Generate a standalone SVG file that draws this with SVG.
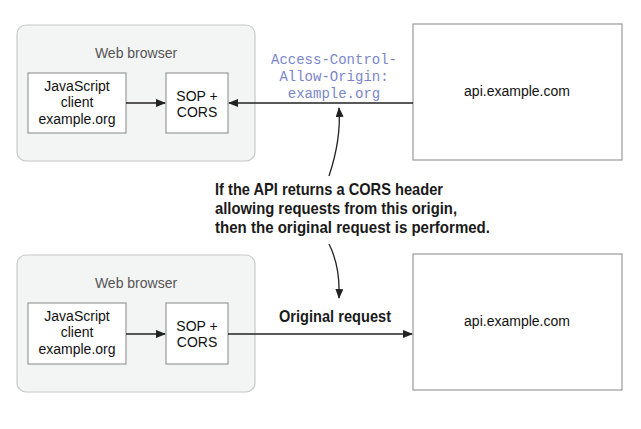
<svg xmlns="http://www.w3.org/2000/svg" width="641" height="429" viewBox="0 0 641 429">
<style>
.browser{fill:#f3f4f4;stroke:#c8c8c8;stroke-width:1.2}
.box{fill:#fff;stroke:#999;stroke-width:1.2}
.t{font-family:"Liberation Sans",Arial,sans-serif;font-size:14px;fill:#111;text-anchor:middle}
.g{font-family:"Liberation Sans",Arial,sans-serif;font-size:14px;fill:#555;text-anchor:middle}
.mono{font-family:"Liberation Mono","Courier New",monospace;font-size:14px;fill:#7b86c9;text-anchor:middle}
.b{font-family:"Liberation Sans Narrow","Liberation Sans",Arial,sans-serif;font-weight:bold;font-size:16.5px;fill:#1a1a1a}
.c{fill:none;stroke:#222;stroke-width:1.3}
</style>
<defs>
<marker id="ah" markerWidth="10" markerHeight="8" refX="9" refY="4" orient="auto" markerUnits="userSpaceOnUse">
<path d="M0,0 L10,4 L0,8 Z" fill="#222"/>
</marker>
</defs>
<g id="browser1">
<rect class="browser" x="17" y="25" width="238" height="136" rx="9"/>
<text class="g" x="136" y="58">Web browser</text>
</g>
<g id="js1">
<rect class="box" x="28" y="73" width="98" height="60"/>
<text class="t" x="77" y="91">JavaScript</text>
<text class="t" x="77" y="107">client</text>
<text class="t" x="77" y="124">example.org</text>
</g>
<g id="sop1">
<rect class="box" x="166" y="73" width="62" height="60"/>
<text class="t" x="197" y="101">SOP +</text>
<text class="t" x="197" y="117">CORS</text>
</g>
<g id="api1">
<rect class="box" x="413" y="24" width="209" height="136"/>
<text class="t" x="517" y="96">api.example.com</text>
</g>
<g id="browser2">
<rect class="browser" x="17" y="255" width="238" height="137" rx="9"/>
<text class="g" x="136" y="288">Web browser</text>
</g>
<g id="js2">
<rect class="box" x="28" y="303" width="98" height="61"/>
<text class="t" x="77" y="321">JavaScript</text>
<text class="t" x="77" y="337">client</text>
<text class="t" x="77" y="354">example.org</text>
</g>
<g id="sop2">
<rect class="box" x="166" y="303" width="62" height="61"/>
<text class="t" x="197" y="331">SOP +</text>
<text class="t" x="197" y="347">CORS</text>
</g>
<g id="api2">
<rect class="box" x="413" y="254" width="209" height="136"/>
<text class="t" x="517" y="326">api.example.com</text>
</g>
<g id="note">
<text class="b" x="215" y="195" textLength="228" lengthAdjust="spacingAndGlyphs">If the API returns a CORS header</text>
<text class="b" x="215" y="214" textLength="242" lengthAdjust="spacingAndGlyphs">allowing requests from this origin,</text>
<text class="b" x="215" y="233" textLength="275" lengthAdjust="spacingAndGlyphs">then the original request is performed.</text>
</g>
<g id="connectors">
<line class="c" x1="126" y1="103" x2="165" y2="103" marker-end="url(#ah)"/>
<line class="c" x1="413" y1="103" x2="229" y2="103" marker-end="url(#ah)"/>
<text class="mono" x="334" y="64">Access-Control-</text>
<text class="mono" x="334" y="81">Allow-Origin:</text>
<text class="mono" x="334" y="98">example.org</text>
<path class="c" d="M329,176 C335,158 341,135 339,108" marker-end="url(#ah)"/>
<path class="c" d="M329,244 C336,258 340,275 339,298" marker-end="url(#ah)"/>
<line class="c" x1="126" y1="334" x2="165" y2="334" marker-end="url(#ah)"/>
<line class="c" x1="228" y1="334" x2="412" y2="334" marker-end="url(#ah)"/>
<text class="b" x="279" y="322" textLength="112" lengthAdjust="spacingAndGlyphs" font-size="17">Original request</text>
</g>
</svg>
